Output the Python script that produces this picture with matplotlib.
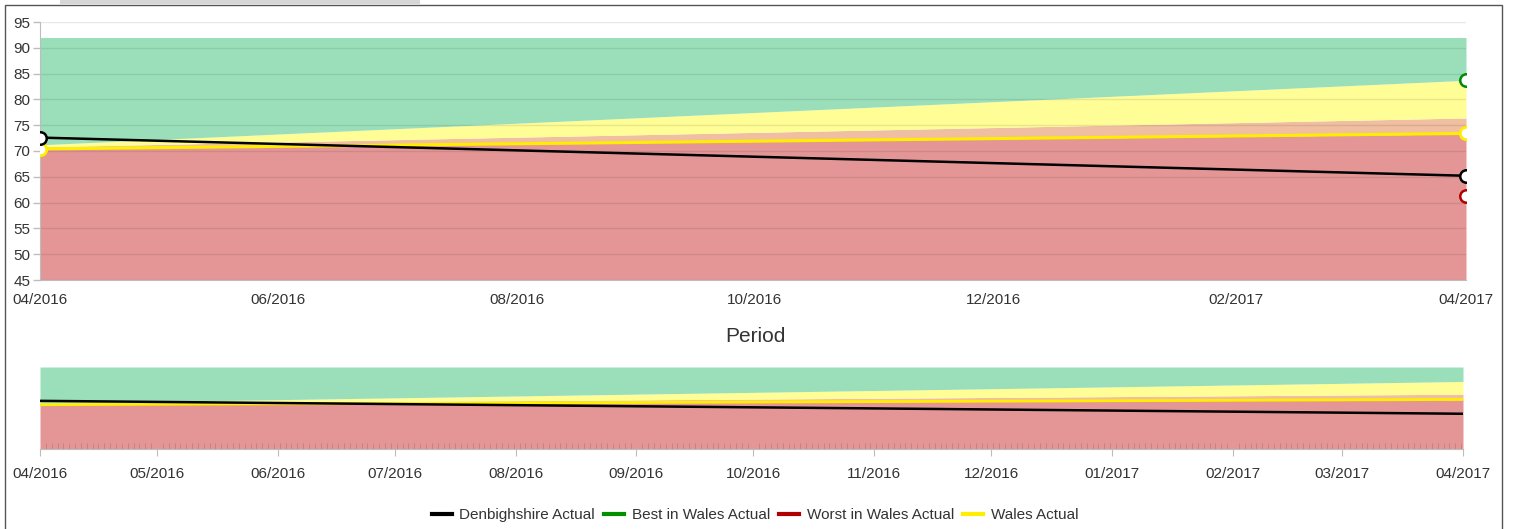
#performance chart: Denbighshire against Wales, with the coloured bands behind
import numpy as np
import matplotlib
matplotlib.use("Agg")
from matplotlib import pyplot as plt
import matplotlib.dates as mdates
from matplotlib.patches import Rectangle
import datetime as dt

plt.rcParams['font.family'] = ['Liberation Sans', 'DejaVu Sans']

#the two reporting periods
periods = [dt.date(2016, 4, 1), dt.date(2017, 4, 1)]

#series values (best / worst only reported for the last period)
denbighshire = [72.6, 65.2]
best_wales = [np.nan, 83.7]
worst_wales = [np.nan, 61.3]
wales = [70.4, 73.4]

#upper edges of the background bands at each period
red_top = [70.4, 73.3]
peach_top = [70.8, 76.4]
yellow_top = [71.2, 83.7]
green_top = [92.0, 92.0]
band_floor = 45

y_ticks = list(range(45, 100, 5))

c_red = '#e49696'
c_peach = '#f0bea0'
c_yellow = '#fffd96'
c_green = '#9adfba'
c_grey = '#bdbdbd'

W, H = 1514, 529
fig = plt.figure(figsize=(W/100, H/100), dpi=100)

def box(l, t, r, b):
	return [l/W, 1 - b/H, (r - l)/W, (b - t)/H]

x = mdates.date2num(periods)

def draw_bands(ax):
	ax.fill_between(x, band_floor, red_top, color=c_red, lw=0, zorder=1)
	ax.fill_between(x, red_top, peach_top, color=c_peach, lw=0, zorder=1)
	ax.fill_between(x, peach_top, yellow_top, color=c_yellow, lw=0, zorder=1)
	ax.fill_between(x, yellow_top, green_top, color=c_green, lw=0, zorder=1)

#main chart
ax = fig.add_axes(box(40, 22, 1466, 280))
draw_bands(ax)
ax.plot(x, wales, color='#ffee00', lw=2.2, zorder=4, marker='o', ms=9,
	mfc='white', mec='#ffee00', mew=2)
ax.plot(x, denbighshire, color='black', lw=1.8, zorder=5, marker='o', ms=9,
	mfc='white', mec='black', mew=1.8)
ax.plot(x, best_wales, color='#008a00', lw=1.8, zorder=5, marker='o', ms=9,
	mfc='white', mec='#008a00', mew=1.8)
ax.plot(x, worst_wales, color='#b00000', lw=1.8, zorder=5, marker='o', ms=9,
	mfc='white', mec='#b00000', mew=1.8)

ax.set_xlim(x[0], x[1])
ax.set_ylim(45, 95)
ax.set_yticks(y_ticks)
for yv in y_ticks:
	ax.axhline(yv, color='black', alpha=0.09, lw=1, zorder=2)
ax.xaxis.set_major_locator(mdates.MonthLocator(bymonth=[2, 4, 6, 8, 10, 12]))
ax.xaxis.set_major_formatter(mdates.DateFormatter('%m/%Y'))
ax.tick_params(axis='x', length=0, pad=9, labelsize=11, colors='#333333')
ax.tick_params(axis='y', length=5, width=1, color=c_grey, pad=2, labelsize=11,
	labelcolor='#333333')
for s in ['top', 'right']:
	ax.spines[s].set_visible(False)
ax.spines['left'].set_color(c_grey)
ax.spines['bottom'].set_color(c_grey)
ax.set_facecolor('none')

fig.text(755/W, 1 - 336/H, 'Period', ha='center', va='center', fontsize=15,
	color='#333333')

#navigator below
nav = fig.add_axes(box(40, 367, 1463, 449))
draw_bands(nav)
nav.plot(x, wales, color='#ffee00', lw=2, zorder=4)
nav.plot(x, denbighshire, color='black', lw=1.8, zorder=5)
nav.set_xlim(x[0], x[1])
nav.set_ylim(45, 92)
nav.set_yticks([])
nav.xaxis.set_major_locator(mdates.MonthLocator())
nav.xaxis.set_major_formatter(mdates.DateFormatter('%m/%Y'))
nav.set_xticks(np.arange(x[0], x[1], 1.5), minor=True)
nav.tick_params(axis='x', which='major', length=5, color=c_grey, pad=8,
	labelsize=11, labelcolor='#333333')
nav.tick_params(axis='x', which='minor', direction='in', length=4, color='#c08080')
for s in ['top', 'right', 'left']:
	nav.spines[s].set_visible(False)
nav.spines['bottom'].set_color(c_grey)

#legend
handles = [plt.Line2D([], [], color=c, lw=3) for c in
	['black', '#009000', '#b00000', '#ffee00']]
labels = ['Denbighshire Actual', 'Best in Wales Actual', 'Worst in Wales Actual',
	'Wales Actual']
fig.legend(handles, labels, loc='center', bbox_to_anchor=(755/W, 1 - 515/H),
	ncol=4, frameon=False, fontsize=11, handlelength=1.3, handletextpad=0.5,
	columnspacing=0.6, labelcolor='#333333')

#outer frame and the grey strip at the top
fig.add_artist(Rectangle((5/W, -0.01), (1502 - 5)/W, 1 - 5/H + 0.01,
	transform=fig.transFigure, fill=False, ec='#555555', lw=1))
fig.add_artist(Rectangle((60/W, 1 - 4/H), 360/W, 4/H, transform=fig.transFigure,
	color='#d6d6d6', lw=0))

fig.savefig('out.png', dpi=100)
